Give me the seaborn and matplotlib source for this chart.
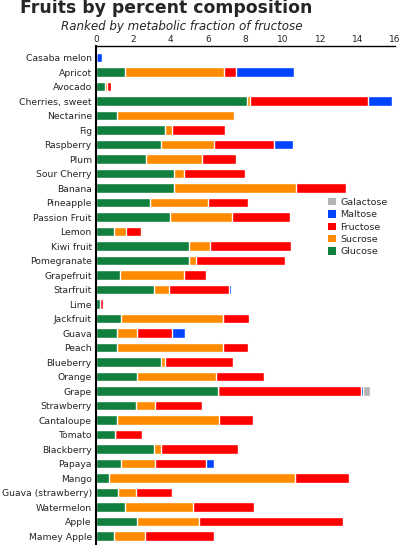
import matplotlib
matplotlib.use("Agg")
import matplotlib.pyplot as plt
from matplotlib.patches import Patch
import seaborn as sns
import pandas as pd

# grams per 100 g
fruits = ['Casaba melon', 'Apricot', 'Avocado', 'Cherries, sweet', 'Nectarine', 'Fig',
          'Raspberry', 'Plum', 'Sour Cherry', 'Banana', 'Pineapple', 'Passion Fruit',
          'Lemon', 'Kiwi fruit', 'Pomegranate', 'Grapefruit', 'Starfruit', 'Lime',
          'Jackfruit', 'Guava', 'Peach', 'Blueberry', 'Orange', 'Grape', 'Strawberry',
          'Cantaloupe', 'Tomato', 'Blackberry', 'Papaya', 'Mango', 'Guava (strawberry)',
          'Watermelon', 'Apple', 'Mamey Apple']
glucose = [0.0, 1.55, 0.49, 8.1, 1.13, 3.7, 3.5, 2.7, 4.2, 4.19, 2.87, 3.96,
           0.98, 5.0, 5.0, 1.27, 3.12, 0.2, 1.34, 1.14, 1.14, 3.49, 2.17, 6.54,
           2.15, 1.14, 1.03, 3.08, 1.35, 0.69, 1.16, 1.57, 2.2, 0.98]
sucrose = [0.0, 5.3, 0.08, 0.16, 6.25, 0.38, 2.82, 2.97, 0.49, 6.5, 3.13, 3.34,
           0.6, 1.11, 0.36, 3.43, 0.8, 0.0, 5.47, 1.03, 5.68, 0.21, 4.24, 0.0,
           1.01, 5.43, 0.0, 0.38, 1.83, 9.95, 1.0, 3.63, 3.33, 1.62]
fructose = [0.0, 0.65, 0.25, 6.28, 0.0, 2.8, 3.2, 1.84, 3.3, 2.7, 2.12, 3.1,
            0.82, 4.3, 4.78, 1.17, 3.2, 0.16, 1.39, 1.9, 1.3, 3.64, 2.56, 7.62,
            2.5, 1.83, 1.42, 4.14, 2.72, 2.89, 1.9, 3.28, 7.7, 3.73]
maltose = [0.33, 3.1, 0.0, 1.3, 0.0, 0.0, 1.03, 0.0, 0.0, 0.0, 0.0, 0.0,
           0.0, 0.0, 0.0, 0.0, 0.11, 0.0, 0.0, 0.7, 0.0, 0.0, 0.0, 0.13,
           0.0, 0.0, 0.0, 0.0, 0.41, 0.0, 0.0, 0.0, 0.0, 0.0]
galactose = [0.0] * 23 + [0.36] + [0.0] * 10

sugars = ['Glucose', 'Sucrose', 'Fructose', 'Maltose', 'Galactose']
colors = {'Glucose': '#11803f', 'Sucrose': '#ff8c00', 'Fructose': '#ff0000',
          'Maltose': '#0044ff', 'Galactose': '#b4b4b4'}

df = pd.DataFrame({'Fruit': fruits, 'Glucose': glucose, 'Sucrose': sucrose,
                   'Fructose': fructose, 'Maltose': maltose, 'Galactose': galactose})
cum = df[sugars].cumsum(axis=1)
cum['Fruit'] = df['Fruit']

sns.set_style('white')
plt.rcParams['font.family'] = ['DejaVu Sans']

W, H = 404, 545
fig = plt.figure(figsize=(W / 100, H / 100), dpi=100)
# axis at x=96 px, top spine at y=46 px, row pitch 14.5 px
top_px, pitch = 46, 14.5
ylo, yhi = -0.8, 34.3
ax_h = (yhi - ylo) * pitch
ax = fig.add_axes([96 / W, 1 - (top_px + ax_h) / H, 299 / W, ax_h / H])

# stacked bars: draw running totals from the longest down
for s in reversed(sugars):
    sns.barplot(data=cum, x=s, y='Fruit', orient='h', color=colors[s],
                saturation=1, width=0.65, errorbar=None, ax=ax)

ax.set_xlim(0, 16)
ax.set_ylim(yhi, ylo)
ax.set_xticks(range(0, 17, 2))
ax.xaxis.tick_top()
ax.tick_params(axis='x', length=0, pad=1.5, labelsize=6.5)
ax.tick_params(axis='y', length=0, pad=3, labelsize=6.7)
ax.set_xlabel('')
ax.set_ylabel('')
for side in ['right', 'bottom']:
    ax.spines[side].set_visible(False)
ax.spines['top'].set_linewidth(1.0)
ax.spines['left'].set_linewidth(1.5)
ax.spines['top'].set_color('black')
ax.spines['left'].set_color('black')

handles = [Patch(facecolor=colors[s], edgecolor='none', label=s) for s in reversed(sugars)]
fig.legend(handles=handles, loc='upper left', bbox_to_anchor=(328 / W, 1 - 198 / H),
           frameon=False, fontsize=6.8, handlelength=0.8, handleheight=0.8,
           handletextpad=0.5, labelspacing=0.35, borderpad=0, borderaxespad=0)

fig.text(20 / W, 1 - 13 / H, 'Fruits by percent composition', fontsize=12.4,
         fontweight='bold', va='baseline', ha='left')
fig.text(61 / W, 1 - 30 / H, 'Ranked by metabolic fraction of fructose',
         fontsize=8.6, style='italic', va='baseline', ha='left')

fig.savefig('out.png', dpi=100)
